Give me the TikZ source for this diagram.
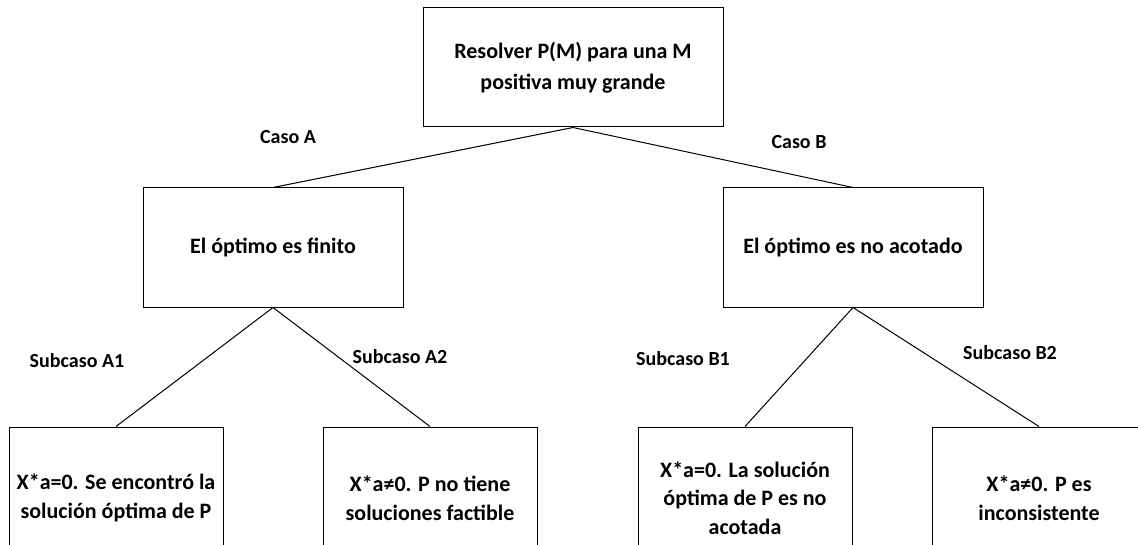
\documentclass[tikz,border=0pt]{standalone}
\usepackage{fontspec}
\setmainfont{Carlito}
\begin{document}
\begin{tikzpicture}[x=0.75pt,y=-0.75pt,
  box/.style={draw=black,line width=0.75pt,fill=white,inner sep=0pt,align=center,font=\fontsize{16.5}{21.5}\selectfont\bfseries},
  lbl/.style={inner sep=0pt,font=\fontsize{15}{18}\selectfont\bfseries},
  conn/.style={draw=black,line width=0.75pt}]
\useasboundingbox (0,0) rectangle (1138,545);
\clip (0,0) rectangle (1138,545);
\fill[white] (0,0) rectangle (1138,545);
\node[box,minimum width=225pt,minimum height=89.25pt,font=\fontsize{16.5}{23}\selectfont\bfseries] (top) at (573,67.5) {Resolver P(M) para una M\\positiva muy grande};
\node[box,minimum width=195pt,minimum height=89.25pt] (ml) at (273,247.5) {El óptimo es finito};
\node[box,minimum width=195pt,minimum height=89.25pt] (mr) at (853,247.5) {El óptimo es no acotado};
\node[box,minimum width=160.5pt,minimum height=106.5pt] (b1) at (116,498) {X*a=0. Se encontró la\\solución óptima de P};
\node[box,minimum width=160.5pt,minimum height=106.5pt] (b2) at (430,498) {X*a≠0. P no tiene\\soluciones factible};
\node[box,minimum width=160.5pt,minimum height=106.5pt] (b3) at (745,498) {X*a=0. La solución\\óptima de P es no\\acotada};
\node[box,minimum width=160.5pt,minimum height=106.5pt] (b4) at (1039,498) {X*a≠0. P es\\inconsistente};
\draw[conn] (top.south) -- (ml.north);
\draw[conn] (top.south) -- (mr.north);
\draw[conn] (ml.south) -- (b1.north);
\draw[conn] (ml.south) -- (b2.north);
\draw[conn] (mr.south) -- (b3.north);
\draw[conn] (mr.south) -- (b4.north);
\node[lbl] (ca) at (288,137) {Caso A};
\node[lbl] (cb) at (799,142) {Caso B};
\node[lbl] (sa1) at (77,361) {Subcaso A1};
\node[lbl] (sa2) at (400,357) {Subcaso A2};
\node[lbl] (sb1) at (683,359) {Subcaso B1};
\node[lbl] (sb2) at (1010,353) {Subcaso B2};
\end{tikzpicture}
\end{document}
